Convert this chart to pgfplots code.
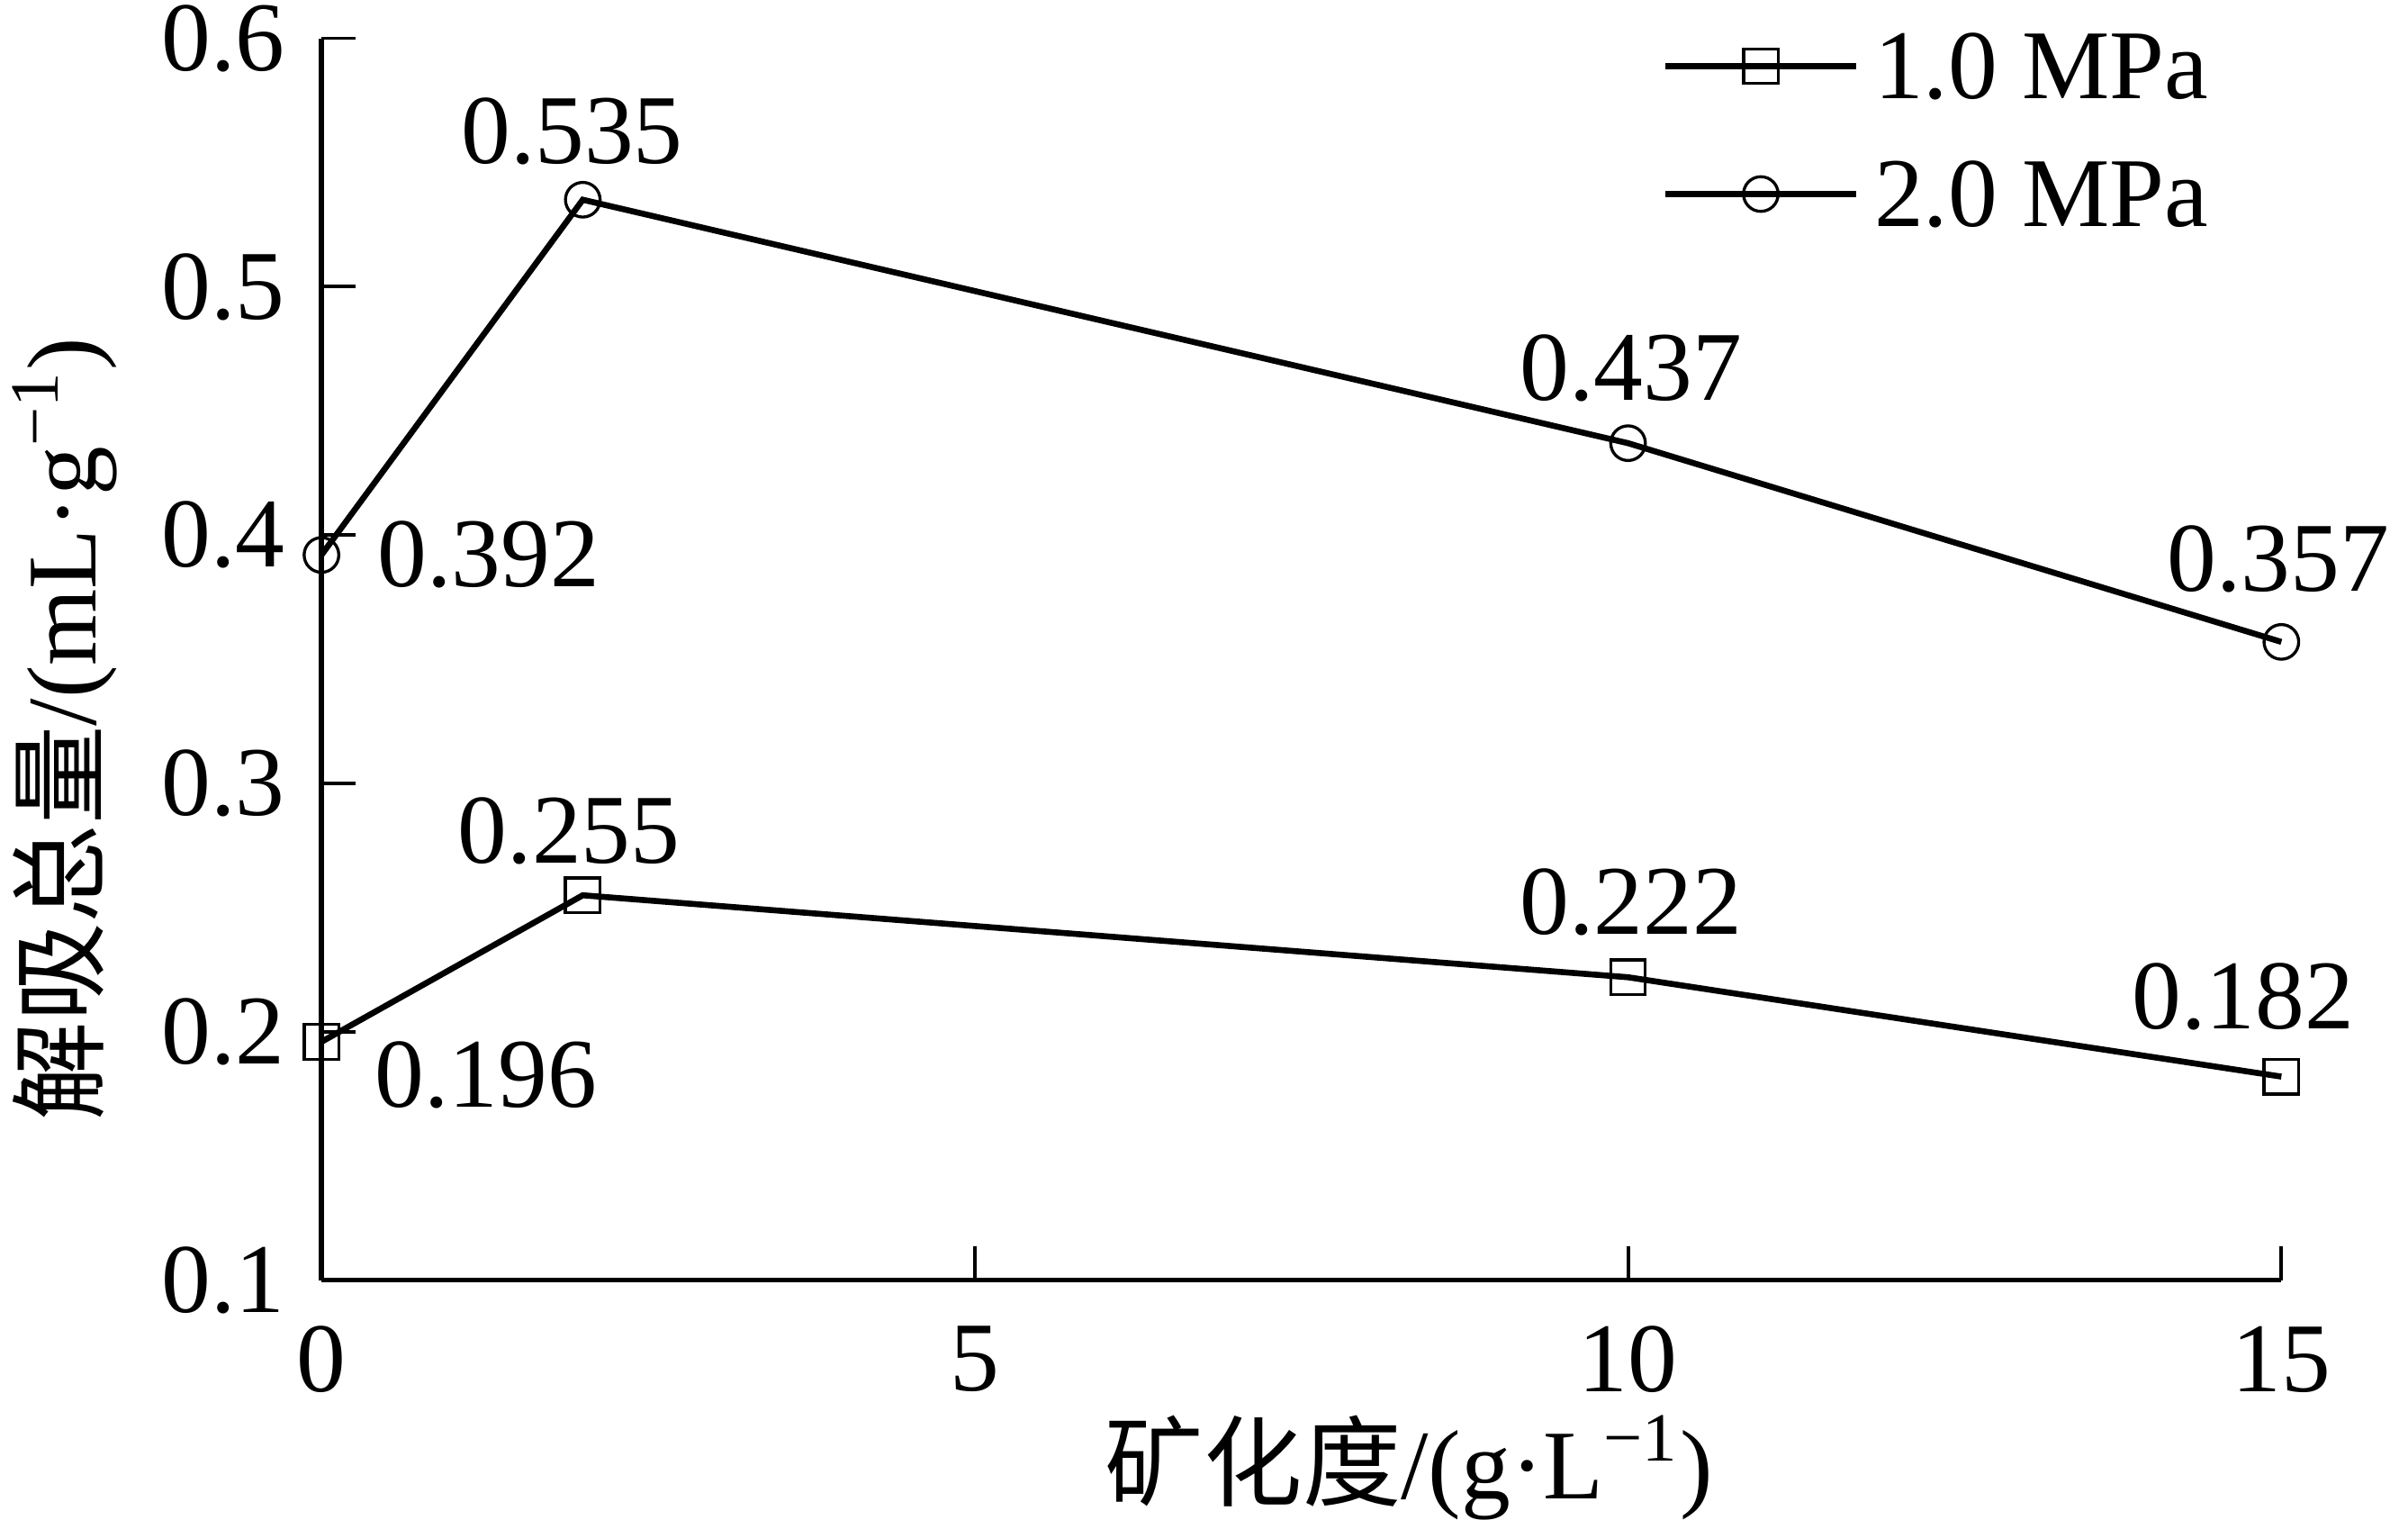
\documentclass[border=0pt]{standalone}
\usepackage{fontspec}
\setmainfont{Liberation Serif}
\newfontfamily\cjk{Noto Sans CJK SC}
\usepackage{pgfplots}
\pgfplotsset{compat=1.18}
\begin{document}
\fontsize{16.5}{19}\selectfont
\begin{tikzpicture}
\useasboundingbox (-53.8pt,-40.0pt) rectangle (349.2pt,214.2pt);
\begin{axis}[
  width=328pt, height=207.8pt, scale only axis,
  xmin=0, xmax=15, ymin=0.1, ymax=0.6,
  axis x line*=bottom, axis y line*=left,
  axis line style={line width=0.8pt, black},
  tick align=inside, major tick length=5.7pt,
  tick style={line width=0.6pt, black},
  xtick={0,5,10,15}, ytick={0.1,0.2,0.3,0.4,0.5,0.6},
  /pgf/number format/assume math mode=true,
  yticklabel style={/pgf/number format/fixed, /pgf/number format/fixed zerofill,
    /pgf/number format/precision=1, inner sep=0pt, xshift=-5.9pt},
  xticklabel style={inner sep=0pt, yshift=-7.5pt},
  clip=false,
  xlabel={{\cjk 矿化度}/(g·L\textsuperscript{−1})},
  ylabel={{\cjk 解吸总量}/(mL·g\textsuperscript{−1})},
  xlabel style={at={(axis description cs:0.555,-0.151)}, anchor=center},
  ylabel style={at={(axis description cs:-0.131,0.444)}, anchor=center},
  legend style={draw=none, fill=none, at={(axis description cs:0.6835,1.005)}, anchor=north west,
    inner sep=0pt, row sep=10.4pt, column sep=2.5pt,
    nodes={inner sep=0pt, text height=11pt, text depth=0pt}},
  legend cell align=left,
  legend image code/.code={\draw[mark repeat=2,mark phase=2,#1] plot coordinates {(0pt,0pt) (16pt,0pt) (32pt,0pt)};},
]
\addplot[black, line width=1pt, mark=square, mark size=2.9pt, mark options={line width=0.5pt, solid}]
  coordinates {(0,0.196) (2,0.255) (10,0.222) (15,0.182)};
\addlegendentry{1.0 MPa}
\addplot[black, line width=1pt, mark=o, mark size=2.9pt, mark options={line width=0.5pt, solid}]
  coordinates {(0,0.392) (2,0.535) (10,0.437) (15,0.357)};
\addlegendentry{2.0 MPa}
\node at (axis cs:2,0.535) [xshift=-1.8pt, yshift=11.5pt] {0.535};
\node at (axis cs:10,0.437) [xshift=0.5pt, yshift=12.5pt] {0.437};
\node at (axis cs:15,0.357) [xshift=-0.5pt, yshift=13.8pt] {0.357};
\node at (axis cs:0,0.392) [xshift=28pt, yshift=0pt] {0.392};
\node at (axis cs:2,0.255) [xshift=-2.3pt, yshift=10.7pt] {0.255};
\node at (axis cs:10,0.222) [xshift=0.5pt, yshift=12.5pt] {0.222};
\node at (axis cs:15,0.182) [xshift=-6.4pt, yshift=13.3pt] {0.182};
\node at (axis cs:0,0.196) [xshift=27.5pt, yshift=-5.6pt] {0.196};
\end{axis}
\end{tikzpicture}
\end{document}
